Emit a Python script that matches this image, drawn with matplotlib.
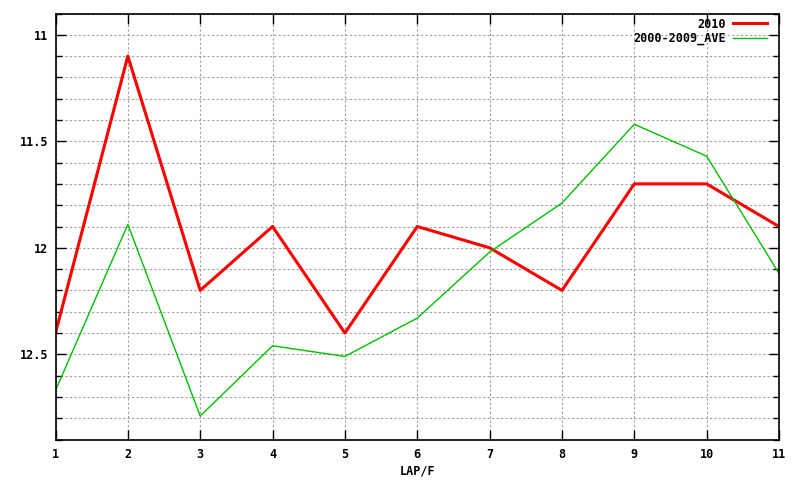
import numpy as np
import matplotlib
matplotlib.use('Agg')
import matplotlib.pyplot as plt
from matplotlib.ticker import MultipleLocator, FixedLocator

laps = [1, 2, 3, 4, 5, 6, 7, 8, 9, 10, 11]
y2010 = [12.40, 11.10, 12.20, 11.90, 12.40, 11.90, 12.00, 12.20, 11.70, 11.70, 11.90]
yave = [12.67, 11.89, 12.79, 12.46, 12.51, 12.33, 12.02, 11.79, 11.42, 11.57, 12.12]

plt.rcParams['font.family'] = ['DejaVu Sans Mono']
plt.rcParams['font.weight'] = 'bold'
plt.rcParams['axes.labelweight'] = 'bold'
plt.rcParams['font.size'] = 8.5

fig = plt.figure(figsize=(8, 4.8), dpi=100)
ax = fig.add_axes([55.5 / 800, 1 - 439.5 / 480, (779 - 55.5) / 800, (439.5 - 13.5) / 480])

ax.plot(laps, y2010, color='#ff0000', lw=2.2, label='2010')
ax.plot(laps, yave, color='#00c000', lw=1.0, label='2000-2009_AVE')

ax.set_xlim(1, 11)
ax.set_ylim(12.9, 10.9)
ax.xaxis.set_major_locator(FixedLocator(laps))
ax.yaxis.set_major_locator(MultipleLocator(0.5))
ax.yaxis.set_minor_locator(MultipleLocator(0.1))
ax.yaxis.set_major_formatter(matplotlib.ticker.FuncFormatter(lambda v, p: '%g' % v))

ax.grid(True, which='both', axis='y', color='#a0a0a0', ls=(0, (2, 2)), lw=0.8)
ax.grid(True, which='major', axis='x', color='#a0a0a0', ls=(0, (2, 2)), lw=0.8)

ax.tick_params(which='both', direction='in', right=True, top=True, width=1, color='black')
ax.tick_params(which='major', length=7)
ax.tick_params(which='minor', length=4)
ax.tick_params(axis='x', pad=6)
ax.tick_params(axis='y', pad=5)
for s in ax.spines.values():
    s.set_linewidth(1.2)

ax.set_xlabel('LAP/F', labelpad=3)

leg = ax.legend(loc='upper right', frameon=False, markerfirst=False, handlelength=2.9,
                bbox_to_anchor=(1 - 12 / 723.5, 1 - 4 / 426), borderpad=0, borderaxespad=0,
                labelspacing=0.1, handletextpad=0.6)

fig.savefig('out.png', dpi=100)
